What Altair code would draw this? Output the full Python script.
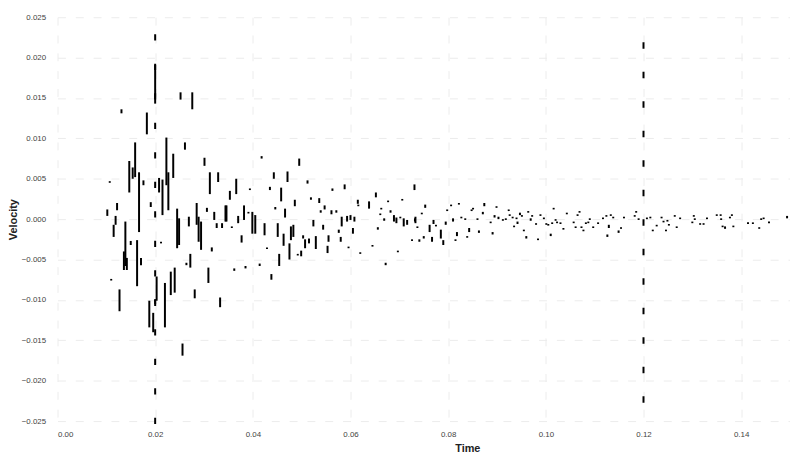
import altair as alt
import pandas as pd

# ---- data (time in s, velocity low/high of each stroke) ----
time_s = [
    0.0102, 0.0107, 0.0110, 0.0115, 0.0119, 0.0122, 0.0127, 0.0131, 0.0136, 0.0139,
    0.0142, 0.0147, 0.0150, 0.0154, 0.0159, 0.0163, 0.0167, 0.0171, 0.0176, 0.0183,
    0.0188, 0.0191, 0.0196, 0.0200, 0.0200, 0.0203, 0.0208, 0.0212, 0.0215, 0.0220,
    0.0223, 0.0227, 0.0232, 0.0237, 0.0240, 0.0245, 0.0249, 0.0252, 0.0256, 0.0261,
    0.0264, 0.0269, 0.0272, 0.0276, 0.0281, 0.0285, 0.0289, 0.0294, 0.0301, 0.0306,
    0.0309, 0.0312, 0.0316, 0.0321, 0.0326, 0.0329, 0.0333, 0.0337, 0.0344, 0.0346,
    0.0353, 0.0357, 0.0362, 0.0366, 0.0370, 0.0377, 0.0382, 0.0385, 0.0391, 0.0394,
    0.0399, 0.0405, 0.0414, 0.0418, 0.0424, 0.0429, 0.0435, 0.0438, 0.0443, 0.0446,
    0.0451, 0.0454, 0.0458, 0.0463, 0.0466, 0.0471, 0.0475, 0.0478, 0.0483, 0.0486,
    0.0492, 0.0495, 0.0499, 0.0503, 0.0507, 0.0512, 0.0515, 0.0519, 0.0524, 0.0529,
    0.0536, 0.0539, 0.0544, 0.0547, 0.0553, 0.0555, 0.0561, 0.0563, 0.0571, 0.0576,
    0.0580, 0.0582, 0.0588, 0.0593, 0.0596, 0.0600, 0.0605, 0.0608, 0.0615, 0.0616,
    0.0620, 0.0638, 0.0645, 0.0652, 0.0656, 0.0661, 0.0663, 0.0669, 0.0672, 0.0677,
    0.0682, 0.0689, 0.0694, 0.0697, 0.0702, 0.0706, 0.0709, 0.0716, 0.0726, 0.0731,
    0.0732, 0.0733, 0.0737, 0.0741, 0.0746, 0.0750, 0.0753, 0.0762, 0.0767, 0.0770,
    0.0775, 0.0785, 0.0790, 0.0795, 0.0798, 0.0806, 0.0810, 0.0815, 0.0818, 0.0822,
    0.0827, 0.0835, 0.0839, 0.0843, 0.0848, 0.0851, 0.0860, 0.0863, 0.0871, 0.0874,
    0.0887, 0.0891, 0.0895, 0.0899, 0.0903, 0.0912, 0.0918, 0.0924, 0.0926, 0.0932,
    0.0935, 0.0940, 0.0942, 0.0947, 0.0951, 0.0955, 0.0960, 0.0964, 0.0969, 0.0972,
    0.0980, 0.0984, 0.0989, 0.0996, 0.1001, 0.1005, 0.1010, 0.1013, 0.1016, 0.1020,
    0.1023, 0.1030, 0.1036, 0.1043, 0.1057, 0.1061, 0.1065, 0.1069, 0.1073, 0.1077,
    0.1082, 0.1087, 0.1090, 0.1097, 0.1107, 0.1117, 0.1124, 0.1126, 0.1129, 0.1133,
    0.1138, 0.1149, 0.1154, 0.1160, 0.1182, 0.1185, 0.1190, 0.1207, 0.1214, 0.1219,
    0.1227, 0.1237, 0.1241, 0.1246, 0.1249, 0.1252, 0.1264, 0.1268, 0.1275, 0.1300,
    0.1303, 0.1305, 0.1316, 0.1323, 0.1330, 0.1350, 0.1358, 0.1359, 0.1362, 0.1367,
    0.1377, 0.1381, 0.1384, 0.1414, 0.1424, 0.1437, 0.1441, 0.1446, 0.1457, 0.1494,
]
vel_low = [
    0.0004, 0.0045, -0.0076, -0.0022, -0.0007, 0.0011, -0.0114, 0.0131, -0.0063, -0.0058,
    -0.0063, 0.0033, -0.0032, 0.0050, 0.0052, -0.0083, -0.0016, -0.0057, 0.0042, 0.0105,
    -0.0134, 0.0015, -0.0140, 0.0143, -0.0105, -0.0101, 0.0033, -0.0030, 0.0005, -0.0134,
    0.0042, 0.0011, -0.0094, 0.0051, -0.0091, -0.0036, -0.0032, 0.0148, -0.0169, 0.0086,
    -0.0057, -0.0009, -0.0060, 0.0136, -0.0098, -0.0007, -0.0028, -0.0038, 0.0066, 0.0009,
    -0.0079, 0.0031, -0.0040, -0.0001, -0.0011, 0.0046, -0.0109, -0.0011, -0.0003, -0.0003,
    0.0024, -0.0011, -0.0064, 0.0031, -0.0005, -0.0029, -0.0001, -0.0061, 0.0007, 0.0036,
    -0.0018, -0.0018, -0.0058, 0.0075, -0.0020, -0.0037, 0.0036, -0.0075, 0.0050, 0.0012,
    -0.0022, -0.0058, 0.0022, -0.0033, 0.0002, 0.0046, -0.0050, -0.0026, -0.0022, 0.0016,
    -0.0045, 0.0066, -0.0046, -0.0024, -0.0036, 0.0044, -0.0030, 0.0024, -0.0009, -0.0037,
    0.0020, 0.0008, -0.0013, 0.0012, -0.0042, -0.0028, 0.0006, 0.0035, 0.0008, -0.0017,
    -0.0028, -0.0009, 0.0037, -0.0003, -0.0036, -0.0001, -0.0018, -0.0003, 0.0019, 0.0016,
    -0.0043, 0.0013, -0.0034, 0.0027, -0.0013, 0.0005, 0.0012, -0.0002, -0.0057, 0.0021,
    0.0008, -0.0003, -0.0005, -0.0041, 0.0001, 0.0023, -0.0009, -0.0007, -0.0027, 0.0036,
    -0.0003, -0.0005, -0.0011, -0.0028, 0.0006, -0.0024, 0.0014, -0.0016, -0.0028, -0.0006,
    -0.0009, -0.0024, -0.0032, -0.0007, 0.0010, 0.0016, -0.0003, -0.0027, -0.0021, 0.0018,
    0.0001, -0.0001, -0.0023, -0.0016, 0.0010, 0.0012, -0.0001, -0.0017, 0.0006, 0.0016,
    -0.0005, -0.0019, 0.0002, 0.0014, 0.0000, -0.0002, -0.0001, 0.0010, 0.0004, 0.0001,
    -0.0010, 0.0000, -0.0006, 0.0005, 0.0003, -0.0015, -0.0024, 0.0008, -0.0002, 0.0003,
    -0.0007, -0.0026, 0.0004, 0.0000, -0.0007, -0.0008, -0.0021, -0.0006, 0.0012, -0.0002,
    -0.0005, -0.0006, -0.0013, 0.0006, -0.0005, -0.0011, 0.0004, 0.0008, -0.0011, -0.0015,
    -0.0006, -0.0005, -0.0001, -0.0011, -0.0006, 0.0000, 0.0003, -0.0022, -0.0011, 0.0004,
    0.0001, -0.0017, -0.0012, 0.0001, 0.0003, 0.0008, -0.0001, 0.0000, 0.0001, -0.0015,
    -0.0009, 0.0001, -0.0004, -0.0015, -0.0003, -0.0008, 0.0003, -0.0011, 0.0000, -0.0005,
    0.0003, -0.0001, -0.0007, -0.0007, 0.0000, 0.0004, 0.0004, -0.0001, -0.0010, -0.0012,
    0.0001, 0.0004, -0.0010, -0.0006, -0.0006, -0.0012, -0.0001, 0.0000, -0.0005, 0.0001,
]
vel_high = [
    0.0012, 0.0047, -0.0074, -0.0007, 0.0004, 0.0020, -0.0087, 0.0136, -0.0040, -0.0003,
    -0.0048, 0.0072, -0.0027, 0.0064, 0.0095, -0.0026, 0.0058, -0.0048, 0.0048, 0.0132,
    -0.0101, 0.0021, -0.0116, 0.0191, -0.0099, -0.0071, 0.0051, -0.0028, 0.0049, -0.0079,
    0.0101, 0.0058, -0.0065, 0.0081, -0.0060, 0.0013, 0.0001, 0.0157, -0.0154, 0.0095,
    -0.0054, 0.0003, -0.0043, 0.0157, -0.0087, 0.0020, 0.0003, -0.0003, 0.0076, 0.0014,
    -0.0060, 0.0058, -0.0035, 0.0009, -0.0005, 0.0058, -0.0097, -0.0005, 0.0017, 0.0017,
    0.0035, -0.0009, -0.0061, 0.0050, 0.0004, -0.0020, 0.0017, -0.0058, 0.0009, 0.0038,
    0.0009, 0.0005, -0.0055, 0.0078, -0.0005, -0.0035, 0.0040, -0.0068, 0.0058, 0.0015,
    -0.0005, -0.0043, 0.0039, -0.0018, 0.0013, 0.0059, -0.0030, -0.0009, -0.0007, 0.0024,
    -0.0043, 0.0075, -0.0039, -0.0020, -0.0025, 0.0048, -0.0024, 0.0027, -0.0001, -0.0021,
    0.0026, 0.0011, -0.0007, 0.0017, -0.0033, -0.0020, 0.0011, 0.0038, 0.0011, -0.0013,
    -0.0022, 0.0003, 0.0043, 0.0004, -0.0034, 0.0005, -0.0011, 0.0003, 0.0024, 0.0018,
    -0.0041, 0.0022, -0.0032, 0.0033, -0.0010, 0.0007, 0.0014, 0.0001, -0.0054, 0.0023,
    0.0011, 0.0005, 0.0002, -0.0039, 0.0003, 0.0025, 0.0001, -0.0001, -0.0025, 0.0043,
    0.0001, 0.0003, -0.0009, -0.0025, 0.0008, -0.0021, 0.0018, -0.0007, -0.0022, -0.0001,
    -0.0007, -0.0013, -0.0026, -0.0003, 0.0012, 0.0018, 0.0001, -0.0025, -0.0016, 0.0020,
    0.0003, 0.0001, -0.0021, -0.0011, 0.0012, 0.0014, 0.0001, -0.0014, 0.0009, 0.0020,
    -0.0003, -0.0016, 0.0005, 0.0016, 0.0003, 0.0000, 0.0001, 0.0012, 0.0006, 0.0003,
    -0.0008, 0.0002, -0.0003, 0.0008, 0.0005, -0.0013, -0.0021, 0.0010, 0.0001, 0.0005,
    -0.0005, -0.0024, 0.0006, 0.0002, -0.0005, -0.0006, -0.0018, -0.0004, 0.0014, 0.0000,
    -0.0003, -0.0004, -0.0011, 0.0008, -0.0003, -0.0009, 0.0006, 0.0010, -0.0009, -0.0013,
    -0.0004, -0.0003, 0.0001, -0.0009, -0.0004, 0.0002, 0.0005, -0.0019, -0.0007, 0.0006,
    0.0003, -0.0014, -0.0010, 0.0003, 0.0005, 0.0010, 0.0001, 0.0002, 0.0003, -0.0013,
    -0.0007, 0.0003, -0.0002, -0.0013, -0.0001, -0.0006, 0.0005, -0.0009, 0.0002, -0.0003,
    0.0005, 0.0001, -0.0005, -0.0005, 0.0002, 0.0006, 0.0006, 0.0001, -0.0008, -0.0009,
    0.0003, 0.0006, -0.0008, -0.0004, -0.0004, -0.0010, 0.0001, 0.0002, -0.0003, 0.0004,
]

# dashed marker lines
marker_time = [0.02, 0.12]
marker_top = [0.0229, 0.0219]
marker_bottom = [-0.0259, -0.0246]

x_ticks = [0.0, 0.02, 0.04, 0.06, 0.08, 0.10, 0.12, 0.14]
y_ticks = [-0.025, -0.02, -0.015, -0.01, -0.005, 0.0, 0.005, 0.01, 0.015, 0.02, 0.025]

df = pd.DataFrame({"Time": time_s, "lo": vel_low, "hi": vel_high})
mk = pd.DataFrame({"Time": marker_time, "lo": marker_bottom, "hi": marker_top})

x_enc = alt.X(
    "Time:Q",
    scale=alt.Scale(domain=[0, 0.15], nice=False, zero=False),
    axis=alt.Axis(values=x_ticks, format=".2f", title="Time", labelPadding=10,
                  titlePadding=4, titleX=414),
)
y_enc = alt.Y(
    "hi:Q",
    scale=alt.Scale(domain=[-0.025, 0.025], nice=False, zero=False),
    axis=alt.Axis(values=y_ticks, format=".3f", title="Velocity", labelPadding=12,
                  titlePadding=3),
)

markers = alt.Chart(mk).mark_rule(
    color="black", strokeWidth=2, strokeDash=[6.5, 23.3]
).encode(x=x_enc, y=y_enc, y2="lo:Q")

strokes = alt.Chart(df).mark_rule(
    color="black", strokeWidth=2, strokeCap="butt"
).encode(x=x_enc, y=y_enc, y2="lo:Q")

chart = (
    alt.layer(markers, strokes)
    .properties(
        width=740,
        height=408,
        autosize=alt.AutoSizeParams(type="none"),
        padding={"left": 50, "top": 7, "right": 0, "bottom": 35},
        background="white",
    )
    .configure_view(strokeWidth=0)
    .configure_axis(
        domain=False,
        ticks=False,
        grid=True,
        gridColor="#ececec",
        gridDash=[8, 10],
        gridWidth=1,
        labelFont="Liberation Sans",
        labelFontSize=8,
        labelColor="#444444",
        titleFont="Liberation Sans",
        titleFontSize=11,
        titleFontWeight="bold",
        titleColor="#222222",
    )
)

chart.save("out.html", embed_options={"renderer": "svg", "actions": False})
